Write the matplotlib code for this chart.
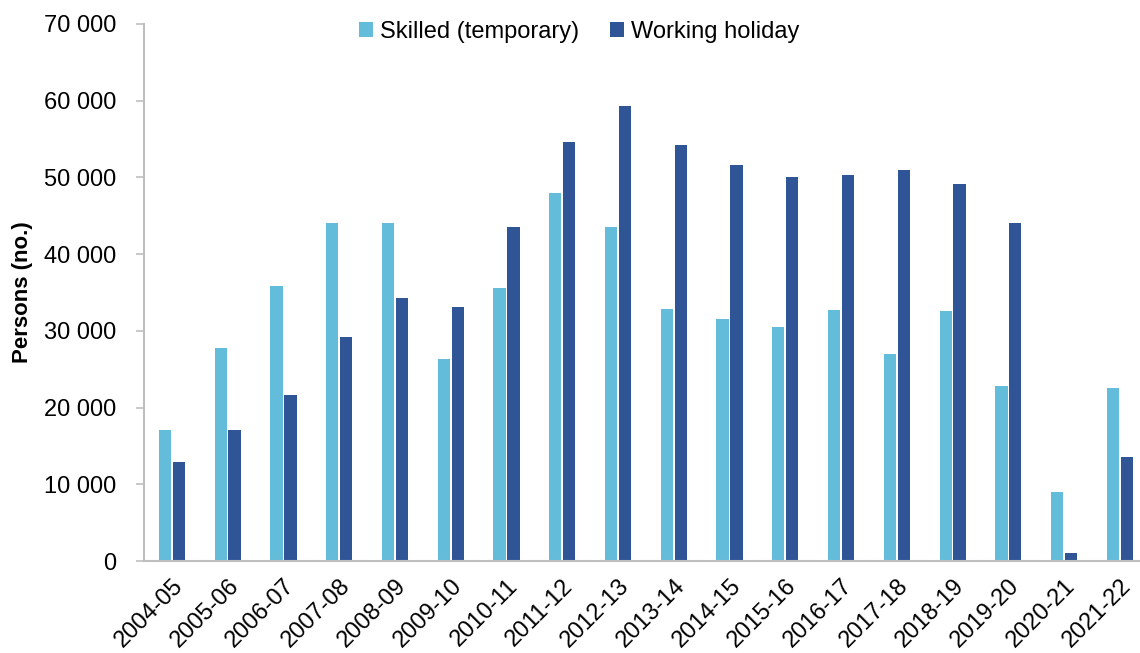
import matplotlib
matplotlib.use("Agg")
import matplotlib.pyplot as plt
from matplotlib.ticker import FuncFormatter
import numpy as np

years = ["2004-05", "2005-06", "2006-07", "2007-08", "2008-09", "2009-10",
         "2010-11", "2011-12", "2012-13", "2013-14", "2014-15", "2015-16",
         "2016-17", "2017-18", "2018-19", "2019-20", "2020-21", "2021-22"]
skilled = [17100, 27800, 35900, 44100, 44100, 26300, 35600, 48000, 43500,
           32900, 31500, 30500, 32700, 27000, 32600, 22800, 9000, 22500]
working_holiday = [12900, 17100, 21600, 29200, 34300, 33100, 43500, 54600, 59300,
                   54200, 51600, 50100, 50300, 51000, 49100, 44000, 1000, 13500]

plt.rcParams['font.family'] = ['Liberation Sans', 'DejaVu Sans']

fig = plt.figure(figsize=(11.4, 6.53), dpi=100)
ax = fig.add_axes([144/1140, 92/653, 1 - 144/1140, (561-24)/653])

x = np.arange(len(years))
w = 0.22
ax.bar(x - 0.125, skilled, w, color="#64BCDB", label="Skilled (temporary)")
ax.bar(x + 0.125, working_holiday, w, color="#2F5597", label="Working holiday")

ax.set_ylim(0, 70000)
ax.set_yticks(range(0, 70001, 10000))
ax.yaxis.set_major_formatter(FuncFormatter(lambda v, p: f"{int(v):,}".replace(",", " ")))
ax.set_xlim(-0.5, 17.36)
ax.set_xticks(x)
ax.set_xticklabels(years, rotation=45, ha="right", rotation_mode="anchor")

for s in ["top", "right"]:
    ax.spines[s].set_visible(False)
for s in ["left", "bottom"]:
    ax.spines[s].set_color("#BFBFBF")
    ax.spines[s].set_linewidth(1.5)
ax.tick_params(axis="y", colors="#BFBFBF", labelcolor="black", labelsize=17, length=6, width=1.2, pad=14)
ax.tick_params(axis="x", length=0, labelsize=17, pad=10)

ax.set_ylabel("Persons (no.)", fontsize=16, fontweight="bold", labelpad=8)

ax.legend(loc="upper center", bbox_to_anchor=(0.437, 1.045), ncol=2, frameon=False,
          fontsize=17, handlelength=0.6, handleheight=0.6, handletextpad=0.3,
          columnspacing=1.3)

fig.savefig("out.png", dpi=100)
